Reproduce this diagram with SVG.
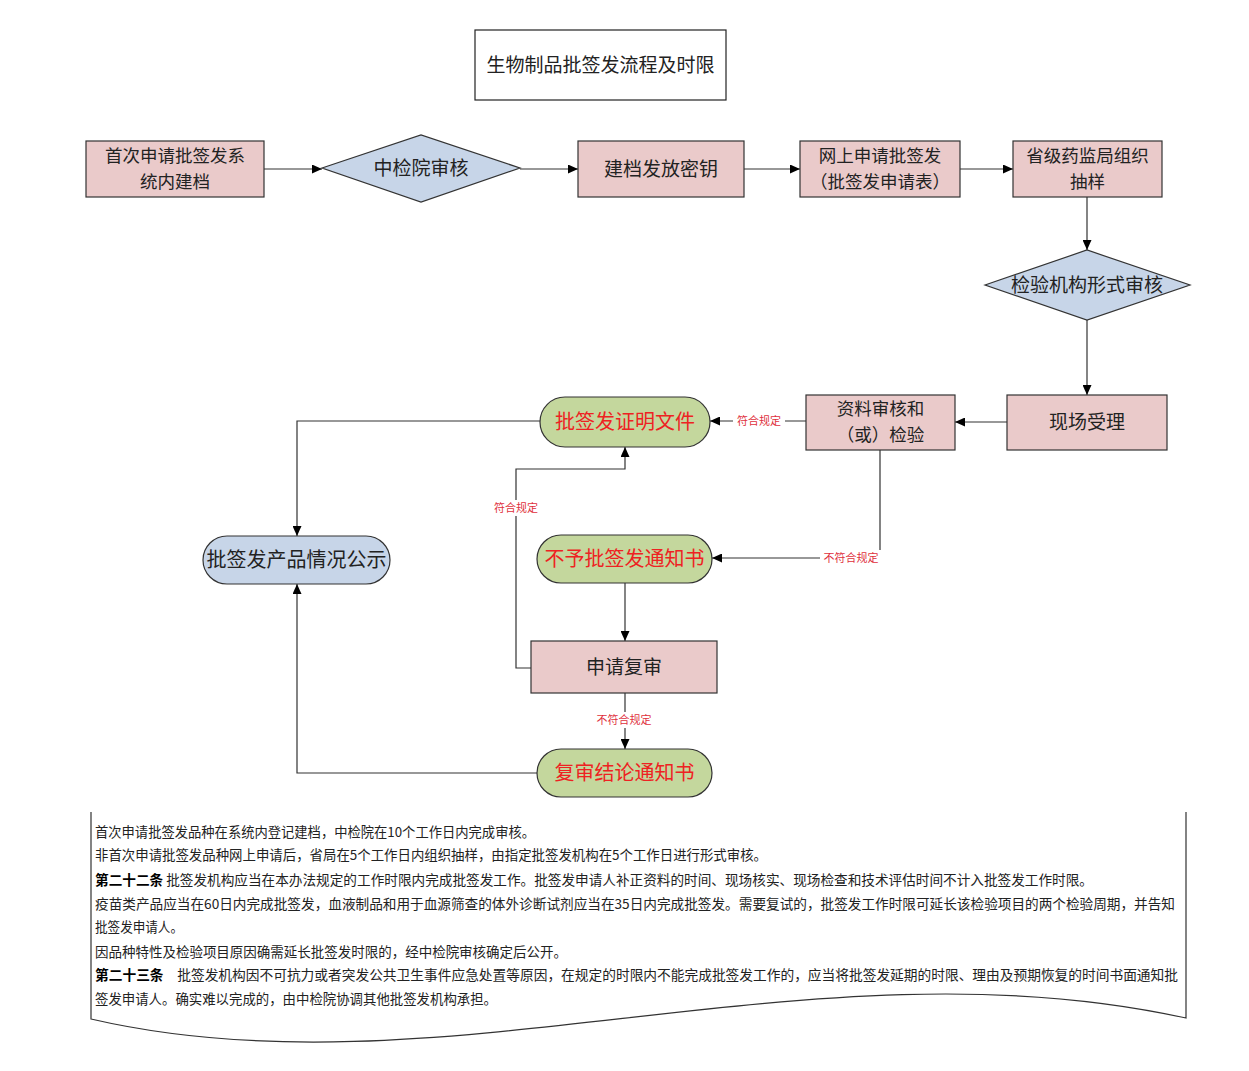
<svg xmlns="http://www.w3.org/2000/svg" width="1249" height="1071" viewBox="0 0 1249 1071">
<style>
  .box{fill:#EACACA;stroke:#333;stroke-width:1.2}
  .dia{fill:#C7D5E8;stroke:#333;stroke-width:1.2}
  .grn{fill:#C4D79D;stroke:#333;stroke-width:1.2}
  .blu{fill:#C7D5E8;stroke:#333;stroke-width:1.2}
  .t{font-family:"Noto Sans CJK SC","Liberation Sans",sans-serif;font-size:19px;fill:#222;text-anchor:middle}
  .t2{font-size:17.5px}
  .r{fill:#EE2222;font-size:20px}
  .lbl{font-family:"Noto Sans CJK SC","Liberation Sans",sans-serif;font-size:11px;fill:#E0303C;text-anchor:middle}
  .ln{fill:none;stroke:#333;stroke-width:1.2}
  .doc{font-family:"Noto Sans CJK SC","Liberation Serif",serif;font-size:13.5px;fill:#222}
  .b{font-weight:bold;fill:#000}
</style>
<defs>
  <marker id="ah" markerWidth="10" markerHeight="9" refX="10" refY="4.5" orient="auto" markerUnits="userSpaceOnUse">
    <path d="M0,0 L10,4.5 L0,9 z" fill="#000"/>
  </marker>
</defs>
<rect width="1249" height="1071" fill="#fff"/>

<g id="title">
  <rect x="475" y="30" width="251" height="70" fill="#fff" stroke="#222" stroke-width="1.2"/>
  <text class="t" x="600.5" y="72">生物制品批签发流程及时限</text>
</g>

<g id="connectors">
  <line class="ln" x1="264" y1="169" x2="322" y2="169" marker-end="url(#ah)"/>
  <line class="ln" x1="520" y1="169" x2="578" y2="169" marker-end="url(#ah)"/>
  <line class="ln" x1="744" y1="169" x2="800" y2="169" marker-end="url(#ah)"/>
  <line class="ln" x1="960" y1="169" x2="1013" y2="169" marker-end="url(#ah)"/>
  <line class="ln" x1="1087" y1="197" x2="1087" y2="250" marker-end="url(#ah)"/>
  <line class="ln" x1="1087" y1="320" x2="1087" y2="395" marker-end="url(#ah)"/>
  <line class="ln" x1="1007" y1="422" x2="955" y2="422" marker-end="url(#ah)"/>
  <line class="ln" x1="806" y1="421" x2="710" y2="421" marker-end="url(#ah)"/>
  <polyline class="ln" points="540,421 297,421 297,536" marker-end="url(#ah)"/>
  <polyline class="ln" points="880,450 880,558 712,558" marker-end="url(#ah)"/>
  <line class="ln" x1="625" y1="583" x2="625" y2="641" marker-end="url(#ah)"/>
  <polyline class="ln" points="531,668 516,668 516,469 625,469 625,447" marker-end="url(#ah)"/>
  <line class="ln" x1="625" y1="693" x2="625" y2="749" marker-end="url(#ah)"/>
  <polyline class="ln" points="537,773 297,773 297,584" marker-end="url(#ah)"/>
  <rect x="733" y="413" width="52" height="16" fill="#fff"/>
  <text class="lbl" x="759" y="425">符合规定</text>
  <rect x="820" y="550" width="62" height="16" fill="#fff"/>
  <text class="lbl" x="851" y="562">不符合规定</text>
  <rect x="490" y="500" width="52" height="16" fill="#fff"/>
  <text class="lbl" x="516" y="512">符合规定</text>
  <rect x="593" y="712" width="62" height="16" fill="#fff"/>
  <text class="lbl" x="624" y="724">不符合规定</text>
</g>

<g id="n1">
  <rect class="box" x="86" y="141" width="178" height="56"/>
  <text class="t t2" x="175" y="162">首次申请批签发系</text>
  <text class="t t2" x="175" y="188">统内建档</text>
</g>
<g id="n2">
  <polygon class="dia" points="322,168 421,135 520,168 421,202"/>
  <text class="t" x="421" y="175">中检院审核</text>
</g>
<g id="n3">
  <rect class="box" x="578" y="141" width="166" height="56"/>
  <text class="t" x="661" y="176">建档发放密钥</text>
</g>
<g id="n4">
  <rect class="box" x="800" y="141" width="160" height="56"/>
  <text class="t t2" x="880" y="162">网上申请批签发</text>
  <text class="t t2" x="880" y="188">（批签发申请表）</text>
</g>
<g id="n5">
  <rect class="box" x="1013" y="141" width="149" height="56"/>
  <text class="t t2" x="1087.5" y="162">省级药监局组织</text>
  <text class="t t2" x="1087.5" y="188">抽样</text>
</g>
<g id="n6">
  <polygon class="dia" points="985,285 1087,250 1190,285 1087,320"/>
  <text class="t" x="1087" y="292">检验机构形式审核</text>
</g>
<g id="n7">
  <rect class="box" x="1007" y="395" width="160" height="55"/>
  <text class="t" x="1087" y="429">现场受理</text>
</g>
<g id="n8">
  <rect class="box" x="806" y="395" width="149" height="55"/>
  <text class="t t2" x="880.5" y="415">资料审核和</text>
  <text class="t t2" x="880.5" y="441">（或）检验</text>
</g>
<g id="n9">
  <rect class="grn" x="540" y="397" width="170" height="50" rx="25"/>
  <text class="t r" x="625" y="429">批签发证明文件</text>
</g>
<g id="n10">
  <rect class="blu" x="203" y="536" width="187" height="48" rx="24"/>
  <text class="t" x="296.5" y="567" style="font-size:20px">批签发产品情况公示</text>
</g>
<g id="n11">
  <rect class="grn" x="537" y="535" width="175" height="48" rx="24"/>
  <text class="t r" x="624.5" y="566">不予批签发通知书</text>
</g>
<g id="n12">
  <rect class="box" x="531" y="641" width="186" height="52"/>
  <text class="t" x="624" y="674">申请复审</text>
</g>
<g id="n13">
  <rect class="grn" x="537" y="749" width="175" height="48" rx="24"/>
  <text class="t r" x="624.5" y="780">复审结论通知书</text>
</g>

<g id="note">
  <path d="M91,812 L91,1019 C440,1100 810,935 1186,1018 L1186,812" fill="#fff" stroke="#333" stroke-width="1.2"/>
  <text class="doc" x="95" y="837" textLength="440" lengthAdjust="spacingAndGlyphs">首次申请批签发品种在系统内登记建档，中检院在10个工作日内完成审核。</text>
  <text class="doc" x="95" y="860" textLength="672" lengthAdjust="spacingAndGlyphs">非首次申请批签发品种网上申请后，省局在5个工作日内组织抽样，由指定批签发机构在5个工作日进行形式审核。</text>
  <text class="doc" x="95" y="885" textLength="998" lengthAdjust="spacingAndGlyphs"><tspan class="b">第二十二条</tspan> 批签发机构应当在本办法规定的工作时限内完成批签发工作。批签发申请人补正资料的时间、现场核实、现场检查和技术评估时间不计入批签发工作时限。</text>
  <text class="doc" x="95" y="909" textLength="1080" lengthAdjust="spacingAndGlyphs">疫苗类产品应当在60日内完成批签发，血液制品和用于血源筛查的体外诊断试剂应当在35日内完成批签发。需要复试的，批签发工作时限可延长该检验项目的两个检验周期，并告知</text>
  <text class="doc" x="95" y="932" textLength="88" lengthAdjust="spacingAndGlyphs">批签发申请人。</text>
  <text class="doc" x="95" y="957" textLength="472" lengthAdjust="spacingAndGlyphs">因品种特性及检验项目原因确需延长批签发时限的，经中检院审核确定后公开。</text>
  <text class="doc" x="95" y="980" textLength="1083" lengthAdjust="spacingAndGlyphs"><tspan class="b">第二十三条</tspan>　批签发机构因不可抗力或者突发公共卫生事件应急处置等原因，在规定的时限内不能完成批签发工作的，应当将批签发延期的时限、理由及预期恢复的时间书面通知批</text>
  <text class="doc" x="95" y="1004" textLength="402" lengthAdjust="spacingAndGlyphs">签发申请人。确实难以完成的，由中检院协调其他批签发机构承担。</text>
</g>
</svg>
